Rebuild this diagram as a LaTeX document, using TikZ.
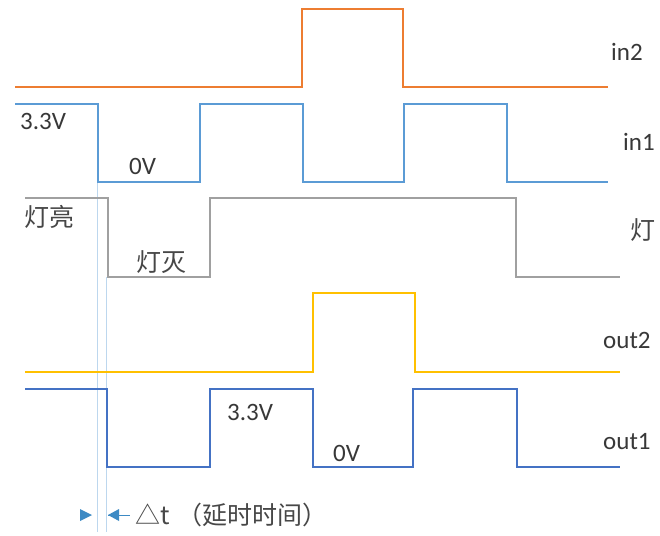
\documentclass[tikz,border=0pt]{standalone}
\usepackage{fontspec}
\setmainfont{Carlito}
\newfontfamily\cjk{Noto Sans CJK SC}
\begin{document}
\begin{tikzpicture}[x=1pt,y=-1pt,
  sig/.style={line width=2.6pt,line join=miter},
  lbl/.style={inner sep=0pt,font=\fontsize{25}{27}\selectfont,text=black!78},
  cn/.style={inner sep=0pt,font=\cjk\fontsize{25}{27}\selectfont,text=black!72},
  guide/.style={line width=0.8pt,draw=cLb!40},
  ]
\definecolor{cOr}{HTML}{ED7D31}
\definecolor{cLb}{HTML}{5B9BD5}
\definecolor{cGr}{HTML}{A0A0A0}
\definecolor{cYe}{HTML}{FFC000}
\definecolor{cDb}{HTML}{4472C4}
\definecolor{cTip}{HTML}{3D8AC4}
\useasboundingbox (0,0) rectangle (660,535);
\fill[white] (0,0) rectangle (660,535);
% guides
\coordinate (g1t) at (97,182); \coordinate (g1b) at (97,532);
\coordinate (g2t) at (106,277); \coordinate (g2b) at (106,532);
\draw[guide] (g1t) -- (g1b);
\draw[guide] (g2t) -- (g2b);
% in2
\draw[sig,cOr] (15,87) -- (302,87) -- (302,9) -- (403,9) -- (403,87) -- (608,87);
% in1
\draw[sig,cLb] (15,104) -- (98,104) -- (98,182) -- (200,182) -- (200,104) -- (303,104) -- (303,182) -- (404,182) -- (404,104) -- (507,104) -- (507,182) -- (608,182);
% lamp
\draw[sig,cGr] (25,198) -- (108,198) -- (108,277) -- (210,277) -- (210,198) -- (516,198) -- (516,277) -- (620,277);
% out2
\draw[sig,cYe] (25,372) -- (313,372) -- (313,293) -- (415,293) -- (415,372) -- (620,372);
% out1
\draw[sig,cDb] (25,389) -- (107,389) -- (107,467) -- (210,467) -- (210,389) -- (313,389) -- (313,467) -- (413,467) -- (413,389) -- (517,389) -- (517,467) -- (620,467);
% labels
\node[lbl,anchor=west] (v1) at (20,121) {3.3V};
\node[lbl,anchor=west] (v2) at (129,166) {0V};
\node[lbl,anchor=west] (n2) at (611,52) {in2};
\node[lbl,anchor=west] (n1) at (623,142) {in1};
\node[cn,anchor=west] (l1) at (24,217) {灯亮};
\node[cn,anchor=west] (l2) at (136,262) {灯灭};
\node[cn,anchor=west] (l3) at (630,230) {灯};
\node[lbl,anchor=west] (o2) at (603,340) {out2};
\node[lbl,anchor=west] (v3) at (227,412) {3.3V};
\node[lbl,anchor=west] (v4) at (333,453) {0V};
\node[lbl,anchor=west] (o1) at (603,442) {out1};
% delta t
\coordinate (a1) at (92,515);
\coordinate (a2) at (108,515);
\coordinate (a2t) at (130,515);
\fill[cTip] (a1) -- ++(-12,-6) -- ++(0,12) -- cycle;
\fill[cTip] (a2) -- ++(11,-6) -- ++(0,12) -- cycle;
\draw[cTip,line width=1pt] (a2) -- (a2t);
\node[cn,anchor=west] (dt) at (135,515) {△t\hspace{8pt}（延时时间）};
\end{tikzpicture}
\end{document}
